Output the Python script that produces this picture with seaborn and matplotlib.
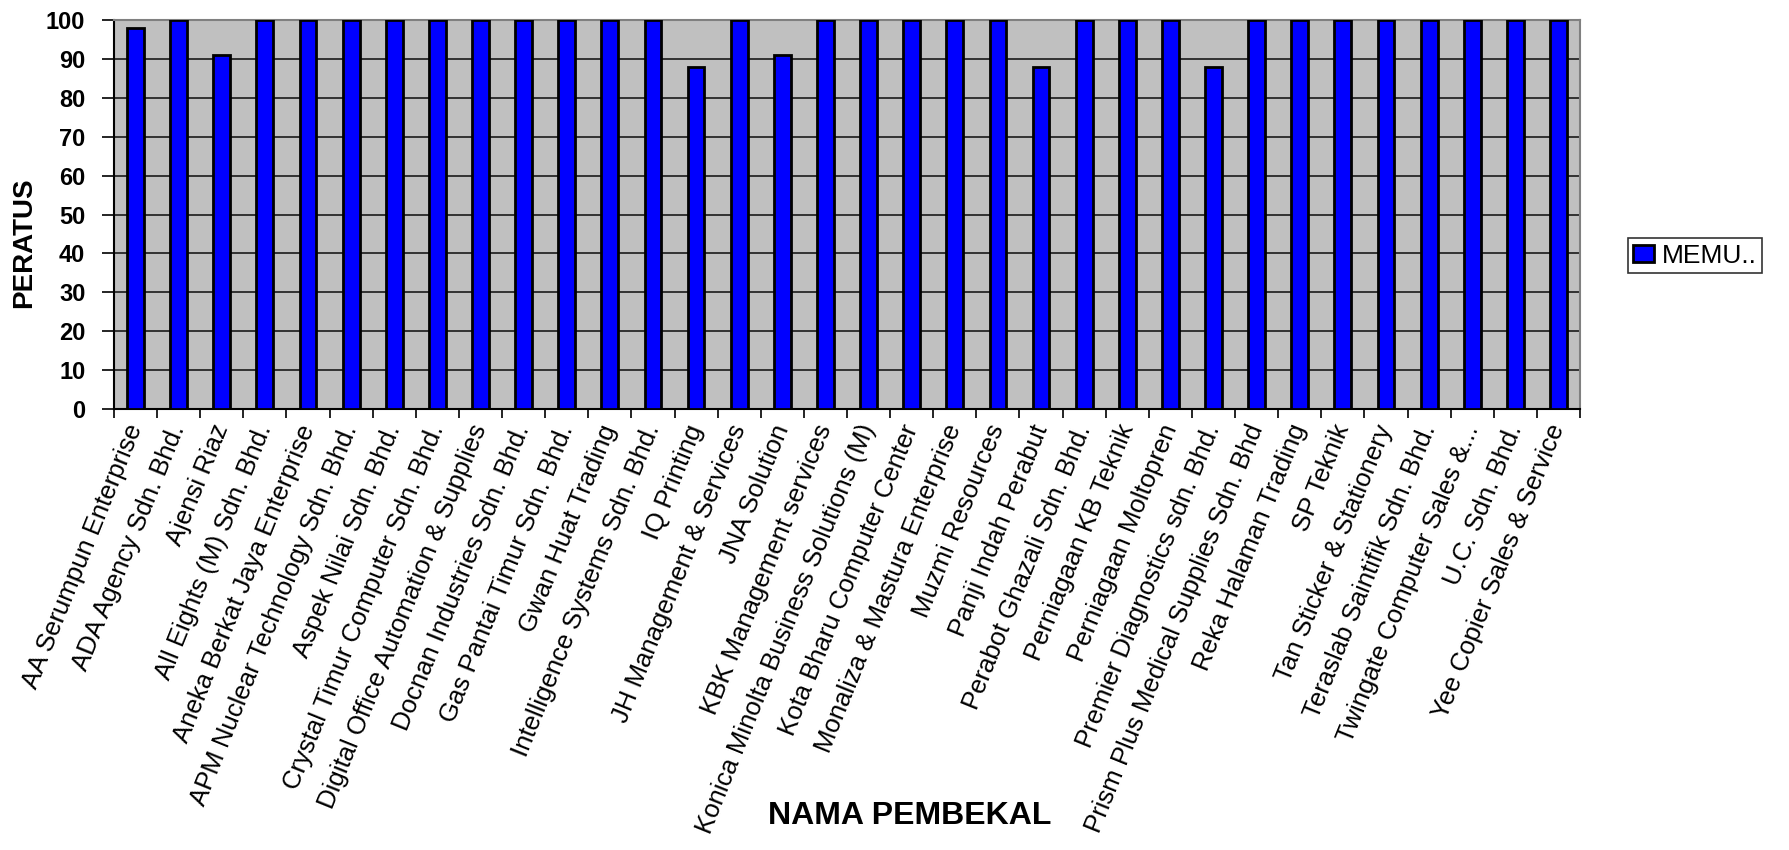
import matplotlib
matplotlib.use('Agg')
import matplotlib.pyplot as plt
import seaborn as sns
import numpy as np

# Data
suppliers = [
    'AA Serumpun Enterprise', 'ADA Agency Sdn. Bhd.', 'Ajensi Riaz',
    'All Eights (M) Sdn. Bhd.', 'Aneka Berkat Jaya Enterprise',
    'APM Nuclear Technology Sdn. Bhd.', 'Aspek Nilai Sdn. Bhd.',
    'Crystal Timur Computer Sdn. Bhd.', 'Digital Office Automation & Supplies',
    'Docnan Industries Sdn. Bhd.', 'Gas Pantai Timur Sdn. Bhd.',
    'Gwan Huat Trading', 'Intelligence Systems Sdn. Bhd.', 'IQ Printing',
    'JH Management & Services', 'JNA Solution', 'KBK Management services',
    'Konica Minolta Business Solutions (M)', 'Kota Bharu Computer Center',
    'Monaliza & Mastura Enterprise', 'Muzmi Resources', 'Panji Indah Perabut',
    'Perabot Ghazali Sdn. Bhd.', 'Perniagaan KB Teknik', 'Perniagaan Moltopren',
    'Premier Diagnostics sdn. Bhd.', 'Prism Plus Medical Supplies Sdn. Bhd',
    'Reka Halaman Trading', 'SP Teknik', 'Tan Sticker & Stationery',
    'Teraslab Saintifik Sdn. Bhd.', 'Twingate Computer Sales &...',
    'U.C. Sdn. Bhd.', 'Yee Copier Sales & Service',
]
peratus = [
    98, 100, 91, 100, 100, 100, 100, 100, 100, 100, 100, 100, 100, 88,
    100, 91, 100, 100, 100, 100, 100, 88, 100, 100, 100, 88, 100, 100,
    100, 100, 100, 100, 100, 100,
]
series_label = 'MEMU..'
y_ticks = list(range(0, 101, 10))

sns.set_style('white')
plt.rcParams['font.family'] = ['Liberation Sans', 'DejaVu Sans']
for key in ['text.color', 'axes.labelcolor', 'xtick.color', 'ytick.color']:
    plt.rcParams[key] = 'black'

fig = plt.figure(figsize=(17.89, 8.5), dpi=100)
ax = fig.add_axes([0.0637, 0.519, 0.8195, 0.457])
ax.set_facecolor('#C0C0C0')

sns.barplot(x=suppliers, y=peratus, color='#0000FF', saturation=1,
            edgecolor='black', linewidth=2, width=0.39, ax=ax,
            label=series_label, zorder=3)

ax.set_ylim(0, 100)
ax.set_yticks(y_ticks)
ax.set_yticklabels([str(t) for t in y_ticks], fontsize=17, fontweight='bold')
ax.yaxis.grid(True, color='#1a1a1a', linewidth=1.2, zorder=1)
ax.set_axisbelow(True)

# category labels on major ticks, boundary tick marks as minor ticks
ax.set_xticks(np.arange(len(suppliers)))
ax.set_xticklabels(suppliers, rotation=68, ha='right', va='center',
                   rotation_mode='anchor', fontsize=18.5)
ax.set_xticks(np.arange(len(suppliers) + 1) - 0.5, minor=True)
ax.tick_params(axis='x', which='major', length=0, pad=12)
ax.tick_params(axis='x', which='minor', length=6.5, width=1.2, color='black',
               direction='out', bottom=True)
ax.tick_params(axis='y', length=8.6, width=1.2, color='black',
               direction='out', left=True, pad=12)

for side in ['left', 'bottom']:
    ax.spines[side].set_color('black')
    ax.spines[side].set_linewidth(1.5)
for side in ['top', 'right']:
    ax.spines[side].set_color('#808080')
    ax.spines[side].set_linewidth(1.5)

ax.set_ylabel('PERATUS', fontsize=20, fontweight='bold')
ax.yaxis.set_label_coords(-0.0525, 0.427)
ax.set_xlabel('NAMA PEMBEKAL', fontsize=23, fontweight='bold')
ax.xaxis.label.set_va('center')
ax.xaxis.set_label_coords(0.543, -1.049)

leg = ax.legend(loc='center', bbox_to_anchor=(0.9475, 0.6994),
                bbox_transform=fig.transFigure, fontsize=19, frameon=True,
                fancybox=False, shadow=False, handlelength=0.8,
                handleheight=0.6, handletextpad=0.3, borderpad=0.2,
                borderaxespad=0)
leg.get_frame().set_edgecolor('black')
leg.get_frame().set_linewidth(1.2)

fig.savefig('out.png', dpi=100)
